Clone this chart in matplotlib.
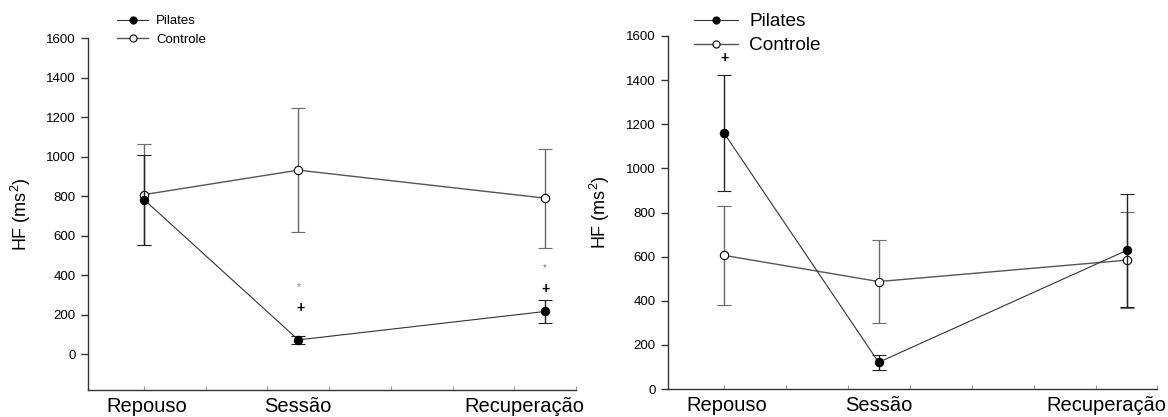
import matplotlib
matplotlib.use("Agg")
import matplotlib.pyplot as plt

plt.rcParams['font.family'] = ['Liberation Sans', 'DejaVu Sans']
plt.rcParams['mathtext.fontset'] = 'custom'
plt.rcParams['mathtext.rm'] = 'Liberation Sans'

# categories and their positions on the SigmaPlot-like x axis
categories = ['Repouso', 'Sessão', 'Recuperação']
cat_x = [0, 2.5, 6.5]
label_x = [0.05, 2.5, 6.17]

# left panel
pil_left = [783, 72, 216]
pil_left_err = [228, 21, 56]
con_left = [808, 932, 790]
con_left_err = [257, 315, 250]

# right panel
pil_right = [1162, 121, 628]
pil_right_err = [263, 33, 255]
con_right = [606, 487, 584]
con_right_err = [224, 190, 217]

# significance marks: (x, y, text)
marks_left = [(2.51, 338, '*'), (2.53, 234, '+'), (6.49, 435, '*'), (6.50, 331, '+')]
marks_right = [(0.01, 1500, '+')]

fig = plt.figure(figsize=(11.68, 4.17), dpi=100)
ax1 = fig.add_axes([0.0757, 0.0647, 0.4175, 0.8435])
ax2 = fig.add_axes([0.5719, 0.0671, 0.4191, 0.8466])


def draw_panel(ax, pil, pil_err, con, con_err, marks, ylim, leg_font, leg_anchor,
               handlelen, spacing):
    c = ax.errorbar(cat_x, con, yerr=con_err, color='#555555', lw=1.0, ecolor='#6a6a6a',
                    elinewidth=1.0, capsize=5, capthick=1.0, marker='o', ms=6,
                    mfc='white', mec='black', mew=0.8, zorder=3)
    p = ax.errorbar(cat_x, pil, yerr=pil_err, color='#333333', lw=0.8, ecolor='#222222',
                    elinewidth=1.0, capsize=5, capthick=1.0, marker='o', ms=6,
                    mfc='black', mec='black', mew=0.8, zorder=4)

    for x, y, t in marks:
        if t == '*':
            ax.text(x, y, t, ha='center', va='center', fontsize=7, color='#777777')
        else:
            ax.text(x, y, t, ha='center', va='center', fontsize=10, fontweight='bold',
                    color='black')

    ax.set_xlim(-0.9, 7)
    ax.set_ylim(*ylim)
    ax.set_yticks(range(0, 1601, 200))
    ax.tick_params(axis='y', direction='out', length=5, width=1, labelsize=9.5,
                   pad=4, color='#333333')
    ax.set_xticks(range(8))
    ax.set_xticklabels([''] * 8)
    ax.tick_params(axis='x', which='major', direction='in', length=3, width=0.8,
                   color='#999999')
    ax.set_xticks(label_x, categories, minor=True)
    ax.tick_params(axis='x', which='minor', length=0, labelsize=14.5, pad=5)
    for s in ['top', 'right']:
        ax.spines[s].set_visible(False)
    for s in ['left', 'bottom']:
        ax.spines[s].set_color('#333333')
        ax.spines[s].set_linewidth(1.0)

    ax.set_ylabel('HF (ms$^2$)', fontsize=13)
    ax.yaxis.set_label_coords(-0.114, 0.5)

    ax.legend([p[0], c[0]], ['Pilates', 'Controle'], loc='upper left',
              bbox_to_anchor=leg_anchor, bbox_transform=fig.transFigure,
              frameon=False, fontsize=leg_font, handlelength=handlelen,
              handletextpad=0.6, borderpad=0, borderaxespad=0, labelspacing=spacing,
              markerscale=0.85)


draw_panel(ax1, pil_left, pil_left_err, con_left, con_left_err, marks_left,
           (-182, 1600), 9.5, (117 / 1168, 1 - 15 / 417), 2.35, 0.5)
draw_panel(ax2, pil_right, pil_right_err, con_right, con_right_err, marks_right,
           (0, 1600), 13.7, (694 / 1168, 1 - 13 / 417), 2.3, 0.35)

fig.savefig('out.png', dpi=100)
